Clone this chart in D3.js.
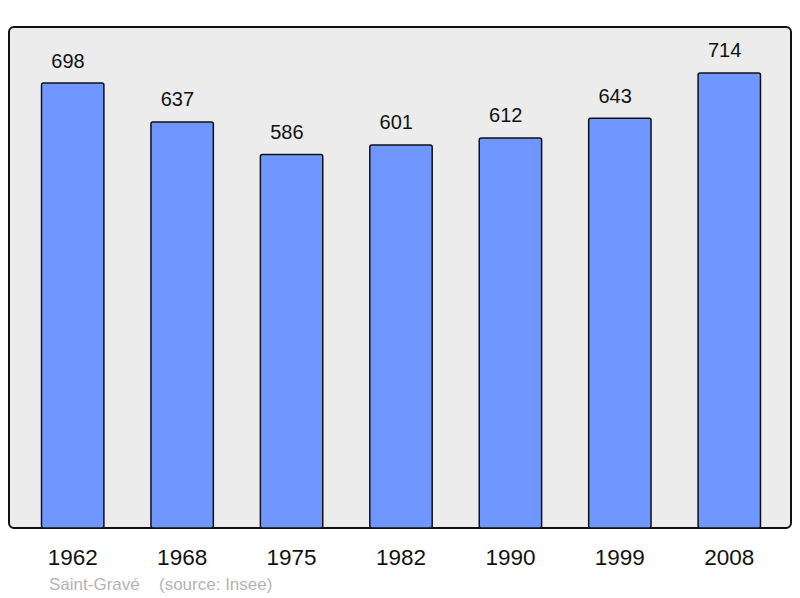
<!DOCTYPE html>
<html><head><meta charset="utf-8">
<script src="https://cdn.jsdelivr.net/npm/d3@7"></script>
<style>body{margin:0;background:#fff}svg{display:block}text{font-family:"Liberation Sans",Arial,sans-serif}</style>
</head><body>
<svg id="c" width="800" height="598"></svg>
<script>
const years = ["1962","1968","1975","1982","1990","1999","2008"];
const population = [698,637,586,601,612,643,714];
const caption = ["Saint-Gravé", "(source: Insee)"];

const svg = d3.select("#c");
const panel = {x0: 9, x1: 791, y0: 27, y1: 528};
svg.append("rect").attr("x", panel.x0).attr("y", panel.y0)
  .attr("width", panel.x1 - panel.x0).attr("height", panel.y1 - panel.y0)
  .attr("rx", 5).attr("fill", "#ececec").attr("stroke", "#111").attr("stroke-width", 2);

const x = d3.scaleBand().domain(years).range([18, 784]).paddingInner(0.43).paddingOuter(0.215);
const y = d3.scaleLinear().domain([0, 786]).range([panel.y1, panel.y0]);

svg.append("g").selectAll("rect").data(years).join("rect")
  .attr("x", d => x(d)).attr("width", x.bandwidth())
  .attr("y", (d,i) => y(population[i])).attr("height", (d,i) => y(0) - y(population[i]))
  .attr("rx", 2).attr("fill", "#7096ff").attr("stroke", "#111").attr("stroke-width", 1.5);

svg.append("g").selectAll("text").data(years).join("text")
  .attr("x", d => x(d) + x.bandwidth()/2 - 4.7).attr("y", (d,i) => y(population[i]) - 15.5)
  .attr("text-anchor", "middle").attr("font-size", 20).attr("fill", "#111")
  .text((d,i) => population[i]);

const axis = d3.axisBottom(x).tickSize(0).tickPadding(0);
const ag = svg.append("g").attr("transform", `translate(0,${panel.y1})`).call(axis);
ag.select(".domain").remove();
ag.selectAll("text").attr("font-size", 22.5).attr("fill", "#111")
  .attr("dy", null).attr("y", 37).style("font-family", '"Liberation Sans",Arial,sans-serif');

svg.append("text").attr("x", 49).attr("y", 590).attr("font-size", 17).attr("fill", "#b4b4b4").text(caption[0]);
svg.append("text").attr("x", 159).attr("y", 590).attr("font-size", 17).attr("fill", "#b4b4b4").text(caption[1]);
</script>
</body></html>
